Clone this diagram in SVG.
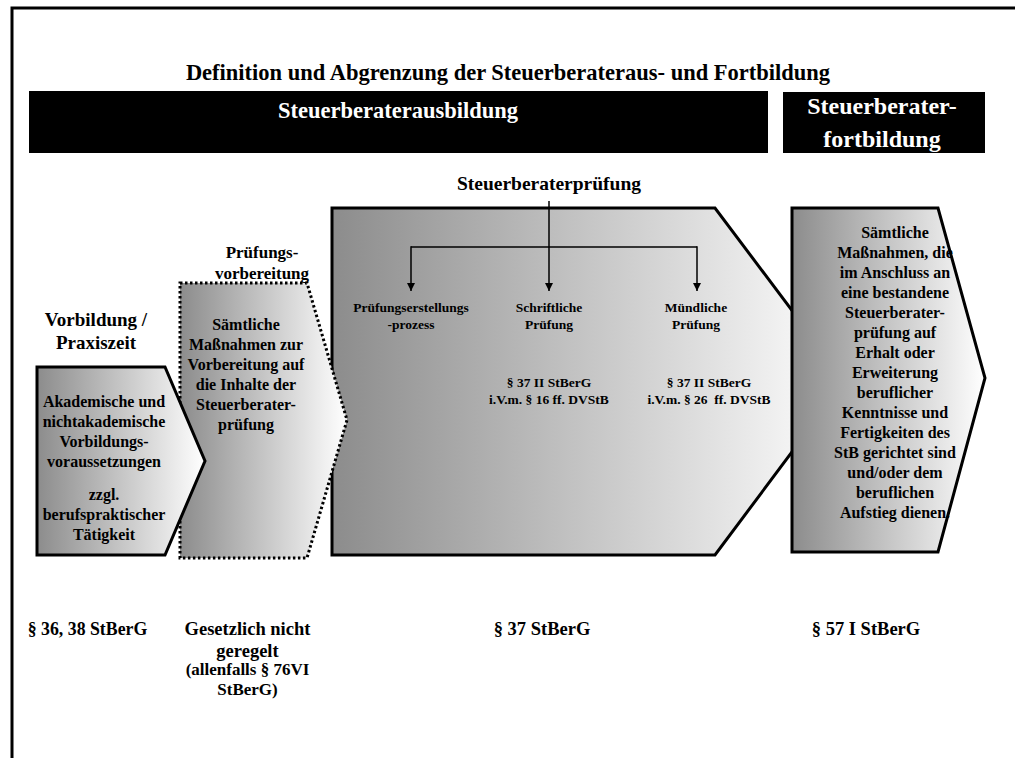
<svg xmlns="http://www.w3.org/2000/svg" width="1015" height="758" viewBox="0 0 1015 758">
<defs>
<linearGradient id="g" x1="0" y1="0" x2="1" y2="0">
<stop offset="0" stop-color="#8c8c8c"/>
<stop offset="1" stop-color="#ffffff"/>
</linearGradient>
<marker id="ah" markerWidth="10" markerHeight="10" refX="8" refY="4" orient="auto" markerUnits="userSpaceOnUse">
<path d="M0,0 L8,4 L0,8 Z" fill="#000"/>
</marker>
<style>
text{font-family:"Liberation Serif","Times New Roman",serif;font-weight:bold;fill:#000;text-anchor:middle}
.w{fill:#fff}
.shape{fill:url(#g);stroke:#000;stroke-width:3;stroke-linejoin:miter}
.dot{stroke-dasharray:2.5 2.5;stroke-width:3}
.t16{font-size:16px}
.t13{font-size:13.5px}
.t19{font-size:19px}
.law{font-size:18.5px}
.con{fill:none;stroke:#000;stroke-width:1.5}
</style>
</defs>
<rect x="12" y="8" width="1020" height="770" fill="#fff" stroke="#000" stroke-width="3"/>
<text x="508" y="80" style="font-size:22.5px">Definition und Abgrenzung der Steuerberateraus- und Fortbildung</text>
<g id="bar-ausbildung">
<rect x="29" y="91" width="739" height="62" fill="#000"/>
<text class="w" x="398" y="118" style="font-size:22.5px">Steuerberaterausbildung</text>
</g>
<g id="bar-fortbildung">
<rect x="783" y="92" width="202" height="61" fill="#000"/>
<text class="w" x="882" y="114" style="font-size:24px">Steuerberater-</text>
<text class="w" x="882" y="147" style="font-size:24px">fortbildung</text>
</g>
<g id="label-pruefung">
<text x="549" y="190" style="font-size:19.5px">Steuerberaterprüfung</text>
</g>
<g id="node-pruefung">
<polygon class="shape" points="332,208 715,208 845,381 715,555 332,555"/>
<text class="t13" x="411" y="312">Prüfungserstellungs</text>
<text class="t13" x="411" y="329">-prozess</text>
<text class="t13" x="549" y="312">Schriftliche</text>
<text class="t13" x="549" y="329">Prüfung</text>
<text class="t13" x="696" y="312">Mündliche</text>
<text class="t13" x="696" y="329">Prüfung</text>
<text class="t13" x="549" y="387">§ 37 II StBerG</text>
<text class="t13" x="549" y="404">i.V.m. § 16 ff. DVStB</text>
<text class="t13" x="709" y="387">§ 37 II StBerG</text>
<text class="t13" x="709" y="404" style="white-space:pre">i.V.m. § 26  ff. DVStB</text>
</g>
<g id="connectors">
<line class="con" x1="549" y1="201" x2="549" y2="291" marker-end="url(#ah)"/>
<polyline class="con" points="411,247 697,247"/>
<line class="con" x1="411" y1="246.25" x2="411" y2="291" marker-end="url(#ah)"/>
<line class="con" x1="697" y1="246.25" x2="697" y2="291" marker-end="url(#ah)"/>
</g>
<g id="node-fortbildung">
<polygon class="shape" points="792,208 938,208 985,378 938,552 792,552"/>
<text class="t16" x="895" y="238">Sämtliche</text>
<text class="t16" x="895" y="258">Maßnahmen, die</text>
<text class="t16" x="895" y="278">im Anschluss an</text>
<text class="t16" x="895" y="298">eine bestandene</text>
<text class="t16" x="895" y="318">Steuerberater-</text>
<text class="t16" x="895" y="338">prüfung auf</text>
<text class="t16" x="895" y="358">Erhalt oder</text>
<text class="t16" x="895" y="378">Erweiterung</text>
<text class="t16" x="895" y="398">beruflicher</text>
<text class="t16" x="895" y="418">Kenntnisse und</text>
<text class="t16" x="895" y="438">Fertigkeiten des</text>
<text class="t16" x="895" y="458">StB gerichtet sind</text>
<text class="t16" x="895" y="478">und/oder dem</text>
<text class="t16" x="895" y="498">beruflichen</text>
<text class="t16" x="895" y="518">Aufstieg dienen.</text>
</g>
<g id="node-vorbereitung">
<polygon class="shape dot" points="180,283 307,283 347,420 307,558 180,558"/>
<text class="t16" x="246" y="330">Sämtliche</text>
<text class="t16" x="246" y="350">Maßnahmen zur</text>
<text class="t16" x="246" y="370">Vorbereitung auf</text>
<text class="t16" x="246" y="390">die Inhalte der</text>
<text class="t16" x="246" y="410">Steuerberater-</text>
<text class="t16" x="246" y="430">prüfung</text>
</g>
<g id="node-vorbildung">
<polygon class="shape" points="37,367 165,367 205,461 165,555 37,555"/>
<text class="t16" x="104" y="407">Akademische und</text>
<text class="t16" x="104" y="427">nichtakademische</text>
<text class="t16" x="104" y="447">Vorbildungs-</text>
<text class="t16" x="104" y="467">voraussetzungen</text>
<text class="t16" x="104" y="500">zzgl.</text>
<text class="t16" x="104" y="520">berufspraktischer</text>
<text class="t16" x="104" y="540">Tätigkeit</text>
</g>
<g id="phase-labels">
<text class="t19" x="96" y="326">Vorbildung /</text>
<text class="t19" x="96" y="349">Praxiszeit</text>
<text x="262" y="258" style="font-size:17px">Prüfungs-</text>
<text x="262" y="279" style="font-size:17px">vorbereitung</text>
</g>
<g id="law-labels">
<text class="law" x="87.5" y="635" style="font-size:17.8px">§ 36, 38 StBerG</text>
<text class="law" x="247.5" y="635">Gesetzlich nicht</text>
<text class="law" x="247.5" y="657">geregelt</text>
<text x="247.5" y="675" style="font-size:17px">(allenfalls § 76VI</text>
<text x="247.5" y="695" style="font-size:17px">StBerG)</text>
<text class="law" x="542" y="635">§ 37 StBerG</text>
<text class="law" x="866" y="635">§ 57 I StBerG</text>
</g>
</svg>
